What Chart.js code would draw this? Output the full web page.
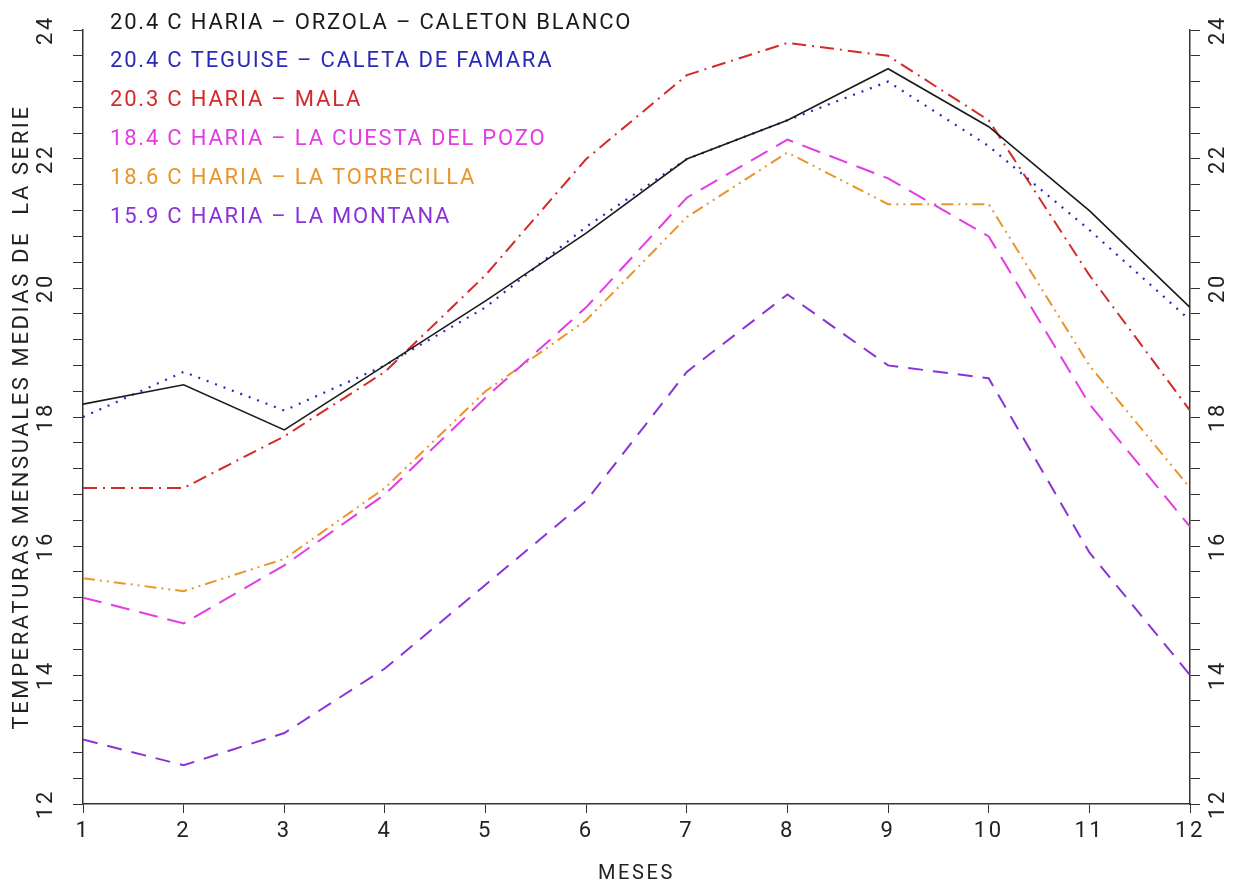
<!DOCTYPE html>
<html>
<head>
<meta charset="utf-8">
<script src="https://cdn.jsdelivr.net/npm/chart.js@4.4.0/dist/chart.umd.min.js"></script>
<style>
  html, body { margin: 0; padding: 0; background: #fff; }
</style>
</head>
<body>
<canvas id="myChart" width="1237" height="884"></canvas>
<script>
// months on the x axis
var months = [1, 2, 3, 4, 5, 6, 7, 8, 9, 10, 11, 12];

// station labels (legend text)
var stationLabels = [
    '20.4 C HARIA \u2013 ORZOLA \u2013 CALETON BLANCO',
    '20.4 C TEGUISE \u2013 CALETA DE FAMARA',
    '20.3 C HARIA \u2013 MALA',
    '18.4 C HARIA \u2013 LA CUESTA DEL POZO',
    '18.6 C HARIA \u2013 LA TORRECILLA',
    '15.9 C HARIA \u2013 LA MONTANA'
];

// monthly mean temperatures (deg C)
var orzola     = [18.2, 18.5, 17.8, 18.8, 19.8, 20.85, 22.0, 22.6, 23.4, 22.5, 21.2, 19.7];
var famara     = [18.0, 18.7, 18.1, 18.8, 19.7, 20.95, 22.0, 22.6, 23.2, 22.2, 20.9, 19.5];
var mala       = [16.9, 16.9, 17.7, 18.7, 20.2, 22.0, 23.3, 23.8, 23.6, 22.6, 20.2, 18.1];
var cuesta     = [15.2, 14.8, 15.7, 16.8, 18.3, 19.7, 21.4, 22.3, 21.7, 20.8, 18.2, 16.3];
var torrecilla = [15.5, 15.3, 15.8, 16.9, 18.4, 19.5, 21.1, 22.1, 21.3, 21.3, 18.8, 16.9];
var montana    = [13.0, 12.6, 13.1, 14.1, 15.4, 16.7, 18.7, 19.9, 18.8, 18.6, 15.9, 14.0];

// y axis range and tick step
var yMin = 12;
var yMax = 24;
var yStep = 0.4;

function points(values) {
    return months.map(function (m, i) { return { x: m, y: values[i] }; });
}

function line(label, values, color, dash, width) {
    return {
        label: label,
        data: points(values),
        borderColor: color,
        backgroundColor: color,
        borderWidth: width,
        borderDash: dash,
        pointRadius: 0,
        tension: 0,
        fill: false
    };
}

var fontFamily = 'Roboto, "Liberation Sans", sans-serif';

// draws the coloured station list in the upper left corner
var textLegend = {
    id: 'textLegend',
    beforeDraw: function (chart) {
        chart.ctx.letterSpacing = '2.6px';
    },
    afterDraw: function (chart) {
        var ctx = chart.ctx;
        ctx.save();
        ctx.font = '22px ' + fontFamily;
        ctx.letterSpacing = '1.8px';
        ctx.textAlign = 'left';
        ctx.textBaseline = 'middle';
        chart.data.datasets.forEach(function (ds, i) {
            ctx.fillStyle = ds.borderColor;
            ctx.fillText(ds.label, 110, 23 + i * 38.8);
        });
        ctx.restore();
    }
};

function majorLabel(value) {
    var r = Math.round(value);
    if (Math.abs(value - r) < 1e-6 && r % 2 === 0) {
        return String(r);
    }
    return '';
}

var axisColor = '#333';

var ctx = document.getElementById('myChart').getContext('2d');

var chart = new Chart(ctx, {
    type: 'line',
    data: {
        datasets: [
            line(stationLabels[0], orzola, '#1a1a1a', [], 1.6),
            line(stationLabels[1], famara, '#2a2ab8', [2, 7], 2.2),
            line(stationLabels[2], mala, '#d42a2a', [14, 6, 2, 6], 2),
            line(stationLabels[3], cuesta, '#e23ce2', [19, 10], 2),
            line(stationLabels[4], torrecilla, '#e8952c', [12, 5, 2, 5, 2, 5], 2),
            line(stationLabels[5], montana, '#8a32d8', [15, 10], 2)
        ]
    },
    options: {
        responsive: false,
        animation: false,
        devicePixelRatio: 1,
        layout: { padding: { top: 30, left: 0, right: 0, bottom: 0 } },
        plugins: {
            legend: { display: false },
            tooltip: { enabled: false }
        },
        scales: {
            x: {
                type: 'linear',
                min: 1,
                max: 12,
                afterFit: function (s) { s.height = 80; },
                border: { display: true, color: axisColor, width: 1.5 },
                grid: { drawOnChartArea: false, drawTicks: true, tickLength: 9, color: axisColor },
                ticks: {
                    stepSize: 1,
                    padding: 5,
                    color: '#222',
                    font: { family: fontFamily, size: 22 }
                },
                title: {
                    display: true,
                    text: 'MESES',
                    color: '#222',
                    padding: { top: 0, bottom: 0 },
                    font: { family: fontFamily, size: 20, lineHeight: 1 }
                }
            },
            y: {
                position: 'left',
                min: yMin,
                max: yMax,
                afterFit: function (s) { s.width = 83; },
                border: { display: true, color: axisColor, width: 1.5 },
                grid: { drawOnChartArea: false, drawTicks: true, tickLength: 10, color: axisColor },
                ticks: {
                    stepSize: yStep,
                    autoSkip: false,
                    minRotation: 90,
                    maxRotation: 90,
                    crossAlign: 'center',
                    padding: 14,
                    color: '#222',
                    font: { family: fontFamily, size: 22 },
                    callback: majorLabel
                },
                title: {
                    display: true,
                    text: 'TEMPERATURAS MENSUALES MEDIAS DE  LA SERIE',
                    color: '#222',
                    padding: { top: 11, bottom: 0 },
                    font: { family: fontFamily, size: 22, lineHeight: 1 }
                }
            },
            y2: {
                position: 'right',
                min: yMin,
                max: yMax,
                afterFit: function (s) { s.width = 47; },
                border: { display: true, color: axisColor, width: 1.5 },
                grid: { drawOnChartArea: false, drawTicks: true, tickLength: 10, color: axisColor },
                ticks: {
                    stepSize: yStep,
                    autoSkip: false,
                    minRotation: 90,
                    maxRotation: 90,
                    crossAlign: 'center',
                    padding: 6,
                    color: '#222',
                    font: { family: fontFamily, size: 22 },
                    callback: majorLabel
                }
            }
        }
    },
    plugins: [textLegend]
});
</script>
</body>
</html>
